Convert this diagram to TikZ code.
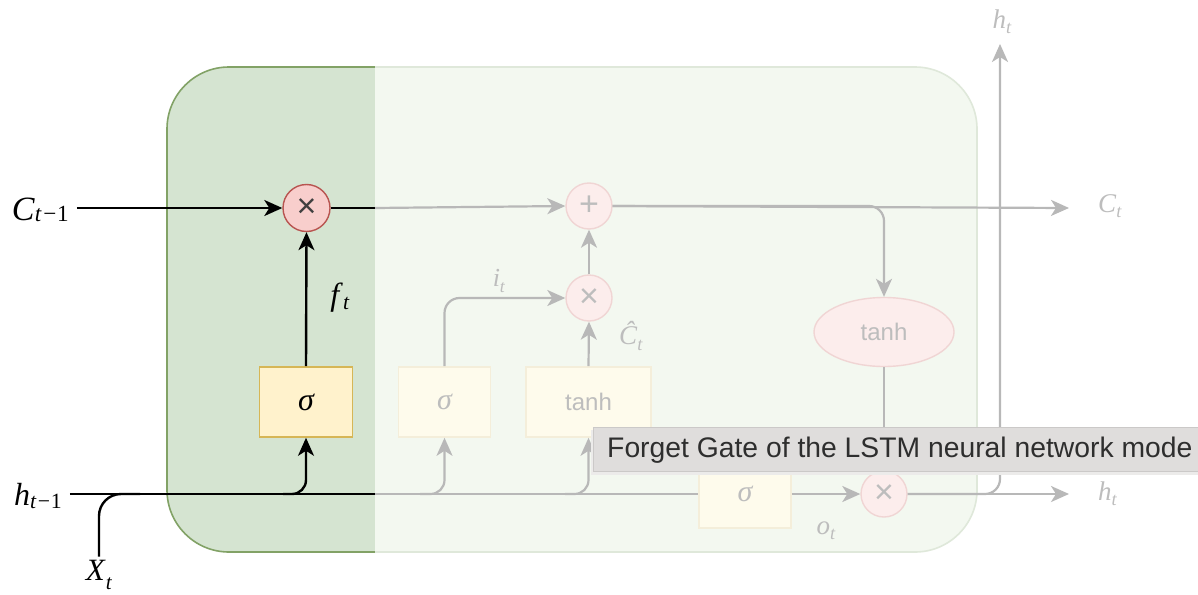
\documentclass[tikz,border=0pt]{standalone}
\usepackage{fontspec}
\usepackage{graphicx}
\setmainfont{Liberation Serif}
\newfontfamily\uisans{Liberation Sans}
\usetikzlibrary{arrows.meta,shapes.geometric}

% italic symbol with a small, lowered subscript
\newcommand{\symb}[3][-0.08em]{\textit{#2}\raisebox{#1}{\scalebox{0.68}{#3}}}
\newcommand{\tmo}{\textit{t}\kern0.06em−\kern0.04em1}

\definecolor{panelDark}{HTML}{D5E4D1}
\definecolor{panelDarkLine}{HTML}{82A266}
\definecolor{panelLight}{HTML}{F3F8F0}
\definecolor{panelLightLine}{HTML}{DFE8DA}
\definecolor{gateFill}{HTML}{FFF2CC}
\definecolor{gateLine}{HTML}{D6B656}
\definecolor{opFill}{HTML}{F8CECC}
\definecolor{opLine}{HTML}{B85450}
\definecolor{fadeGateFill}{HTML}{FEFBEC}
\definecolor{fadeGateLine}{HTML}{F4EEDA}
\definecolor{fadeOpFill}{HTML}{FCEDEC}
\definecolor{fadeOpLine}{HTML}{F0D5D4}
\definecolor{fadeLine}{HTML}{B8B8B8}
\definecolor{fadeText}{HTML}{BDBDBD}
\definecolor{tipFill}{HTML}{DFDDDC}
\definecolor{tipLine}{HTML}{CBC9C8}
\definecolor{tipShade}{HTML}{ECEBEA}
\definecolor{tipText}{HTML}{2E2E2E}

\tikzset{
  flow/.style={line width=2.4pt, draw=black},
  fflow/.style={line width=2.2pt, draw=fadeLine},
  tip/.style={-{Stealth[length=18pt,width=16pt,inset=5pt]}},
  fadetip/.style={-{Stealth[length=18pt,width=16pt,inset=5pt,fill=fadeLine]}},
  gatebox/.style={rectangle, draw=gateLine, fill=gateFill, line width=1.6pt,
    minimum width=93pt, minimum height=70pt, inner sep=0pt,
    font=\fontsize{32}{32}\selectfont\itshape},
  fgatebox/.style={rectangle, draw=fadeGateLine, fill=fadeGateFill, line width=1.6pt,
    minimum width=92pt, minimum height=70pt, inner sep=0pt, text=fadeText,
    font=\fontsize{30}{30}\selectfont\itshape},
  opnode/.style={circle, draw=opLine, fill=opFill, line width=1.4pt,
    minimum size=47pt, inner sep=0pt, text=black!75, font=\uisans\fontsize{34}{34}\selectfont},
  fopnode/.style={circle, draw=fadeOpLine, fill=fadeOpFill, line width=1.4pt,
    minimum size=46pt, inner sep=0pt, text=fadeText, font=\uisans\fontsize{34}{34}\selectfont},
  lbl/.style={inner sep=3pt, font=\fontsize{34}{34}\selectfont},
  flbl/.style={inner sep=2pt, text=fadeText, font=\fontsize{27}{27}\selectfont},
}

\begin{document}
\begin{tikzpicture}[x=1pt, y=-1pt]
\clip (0,0) rectangle (1198,594);
\fill[white] (0,0) rectangle (1198,594);

% cell body: highlighted forget-gate strip and faded remainder
\begin{scope}
  \clip (0,0) rectangle (375,594);
  \path[fill=panelDark, draw=panelDarkLine, line width=1.6pt, rounded corners=62pt]
    (167,67) rectangle (977,552);
\end{scope}
\begin{scope}
  \clip (375,0) rectangle (1198,594);
  \path[fill=panelLight, draw=panelLightLine, line width=1.6pt, rounded corners=62pt]
    (167,67) rectangle (977,552);
\end{scope}

\coordinate (cut1) at (375,208);
\coordinate (cut2) at (375,494);
\coordinate (xjoin) at (140,494);
\coordinate (cend) at (1069,208);
\coordinate (hend) at (1069,494);
\coordinate (htop) at (1000,44);

% forget gate
\node[opnode] (fx) at (306.5,208) {×};
\node[gatebox] (fsig) at (306,402) {σ};

% input / candidate / output parts
\node[fopnode] (plus) at (589,206) {+};
\node[fopnode] (ix) at (589,298) {×};
\node[fgatebox] (isig) at (444.5,402) {σ};
\node[fgatebox, minimum width=125pt, font=\uisans\fontsize{24}{24}\selectfont] (tbox) at (588.5,402) {tanh};
\node[ellipse, draw=fadeOpLine, fill=fadeOpFill, line width=1.4pt, minimum width=140pt,
      minimum height=69pt, inner sep=0pt, text=fadeText, font=\uisans\fontsize{24}{24}\selectfont]
      (tanhE) at (884,332) {tanh};
\node[fgatebox, minimum height=68pt] (osig) at (745,494) {σ};
\node[fopnode] (ox) at (884,494) {×};

% labels
\node[lbl, outer xsep=5pt, anchor=base west] (cprev) at (4,220) {\symb[-0.04em]{C}{\tmo}};
\node[lbl, outer xsep=5pt, anchor=base west, font=\fontsize{32}{32}\selectfont] (hprev) at (6,505) {\symb[-0.1em]{h}{\tmo}};
\node[lbl, anchor=base, font=\fontsize{31}{31}\selectfont] (xin) at (99,580) {\symb[-0.32em]{X}{\textit{t}}};
\node[lbl, font=\fontsize{32}{32}\selectfont] (flbl) at (340,298) {\symb[-0.12em]{f}{\textit{t}}};
\node[flbl, font=\fontsize{26}{26}\selectfont] (ilbl) at (499,281) {\symb[-0.2em]{i}{\textit{t}}};
\node[flbl] (clbl) at (631,336) {\symb[-0.2em]{Ĉ}{\textit{t}}};
\node[flbl] (olbl) at (826,531) {\symb[-0.2em]{o}{\textit{t}}};
\node[flbl] (htlbl) at (1002,22) {\symb[-0.2em]{h}{\textit{t}}};
\node[flbl, anchor=west] (ctlbl) at (1096,206) {\symb[-0.2em]{C}{\textit{t}}};
\node[flbl, anchor=west] (hrlbl) at (1096,494) {\symb[-0.2em]{h}{\textit{t}}};

% highlighted connections
\draw[flow, tip] (cprev.east |- fx.west) -- (fx.west);
\draw[flow] (fx.east) -- (cut1);
\draw[flow, tip] (fsig.north) -- (fx.south);
\draw[flow] (hprev.east |- cut2) -- (cut2);
\draw[flow, tip, rounded corners=14pt] (283,494) -| (fsig.south);
\draw[flow, rounded corners=22pt] (xin.north) |- (xjoin);

% faded connections
\draw[fflow, fadetip] (cut1) -- (plus.west);
\draw[fflow, fadetip] (plus.east) -- (cend);
\draw[fflow, fadetip, rounded corners=15pt] (plus.east) -| (tanhE.north);
\draw[fflow] (cut2) -- (osig.west);
\draw[fflow, fadetip, rounded corners=14pt] (420,494) -| (isig.south);
\draw[fflow, fadetip, rounded corners=14pt] (565,494) -| (tbox.south);
\draw[fflow, fadetip, rounded corners=15pt] (isig.north) |- (ix.west);
\draw[fflow, fadetip] (tbox.north) -- (ix.south);
\draw[fflow, fadetip] (ix.north) -- (plus.south);
\draw[fflow, fadetip] (tanhE.south) -- (ox.north);
\draw[fflow, fadetip] (osig.east) -- (ox.west);
\draw[fflow, fadetip] (ox.east) -- (hend);
\draw[fflow, fadetip, rounded corners=15pt] (ox.east) -| (htop);

% hover caption
\fill[tipShade] (591,430) rectangle (1215,475);
\path[fill=tipFill, draw=tipLine, line width=1pt] (593,427) rectangle (1215,471);
\node[anchor=base west, inner sep=0pt, text=tipText, font=\uisans\fontsize{28.3}{29}\selectfont]
  (caption) at (607,457) {Forget Gate of the LSTM neural network mode};
\end{tikzpicture}
\end{document}
